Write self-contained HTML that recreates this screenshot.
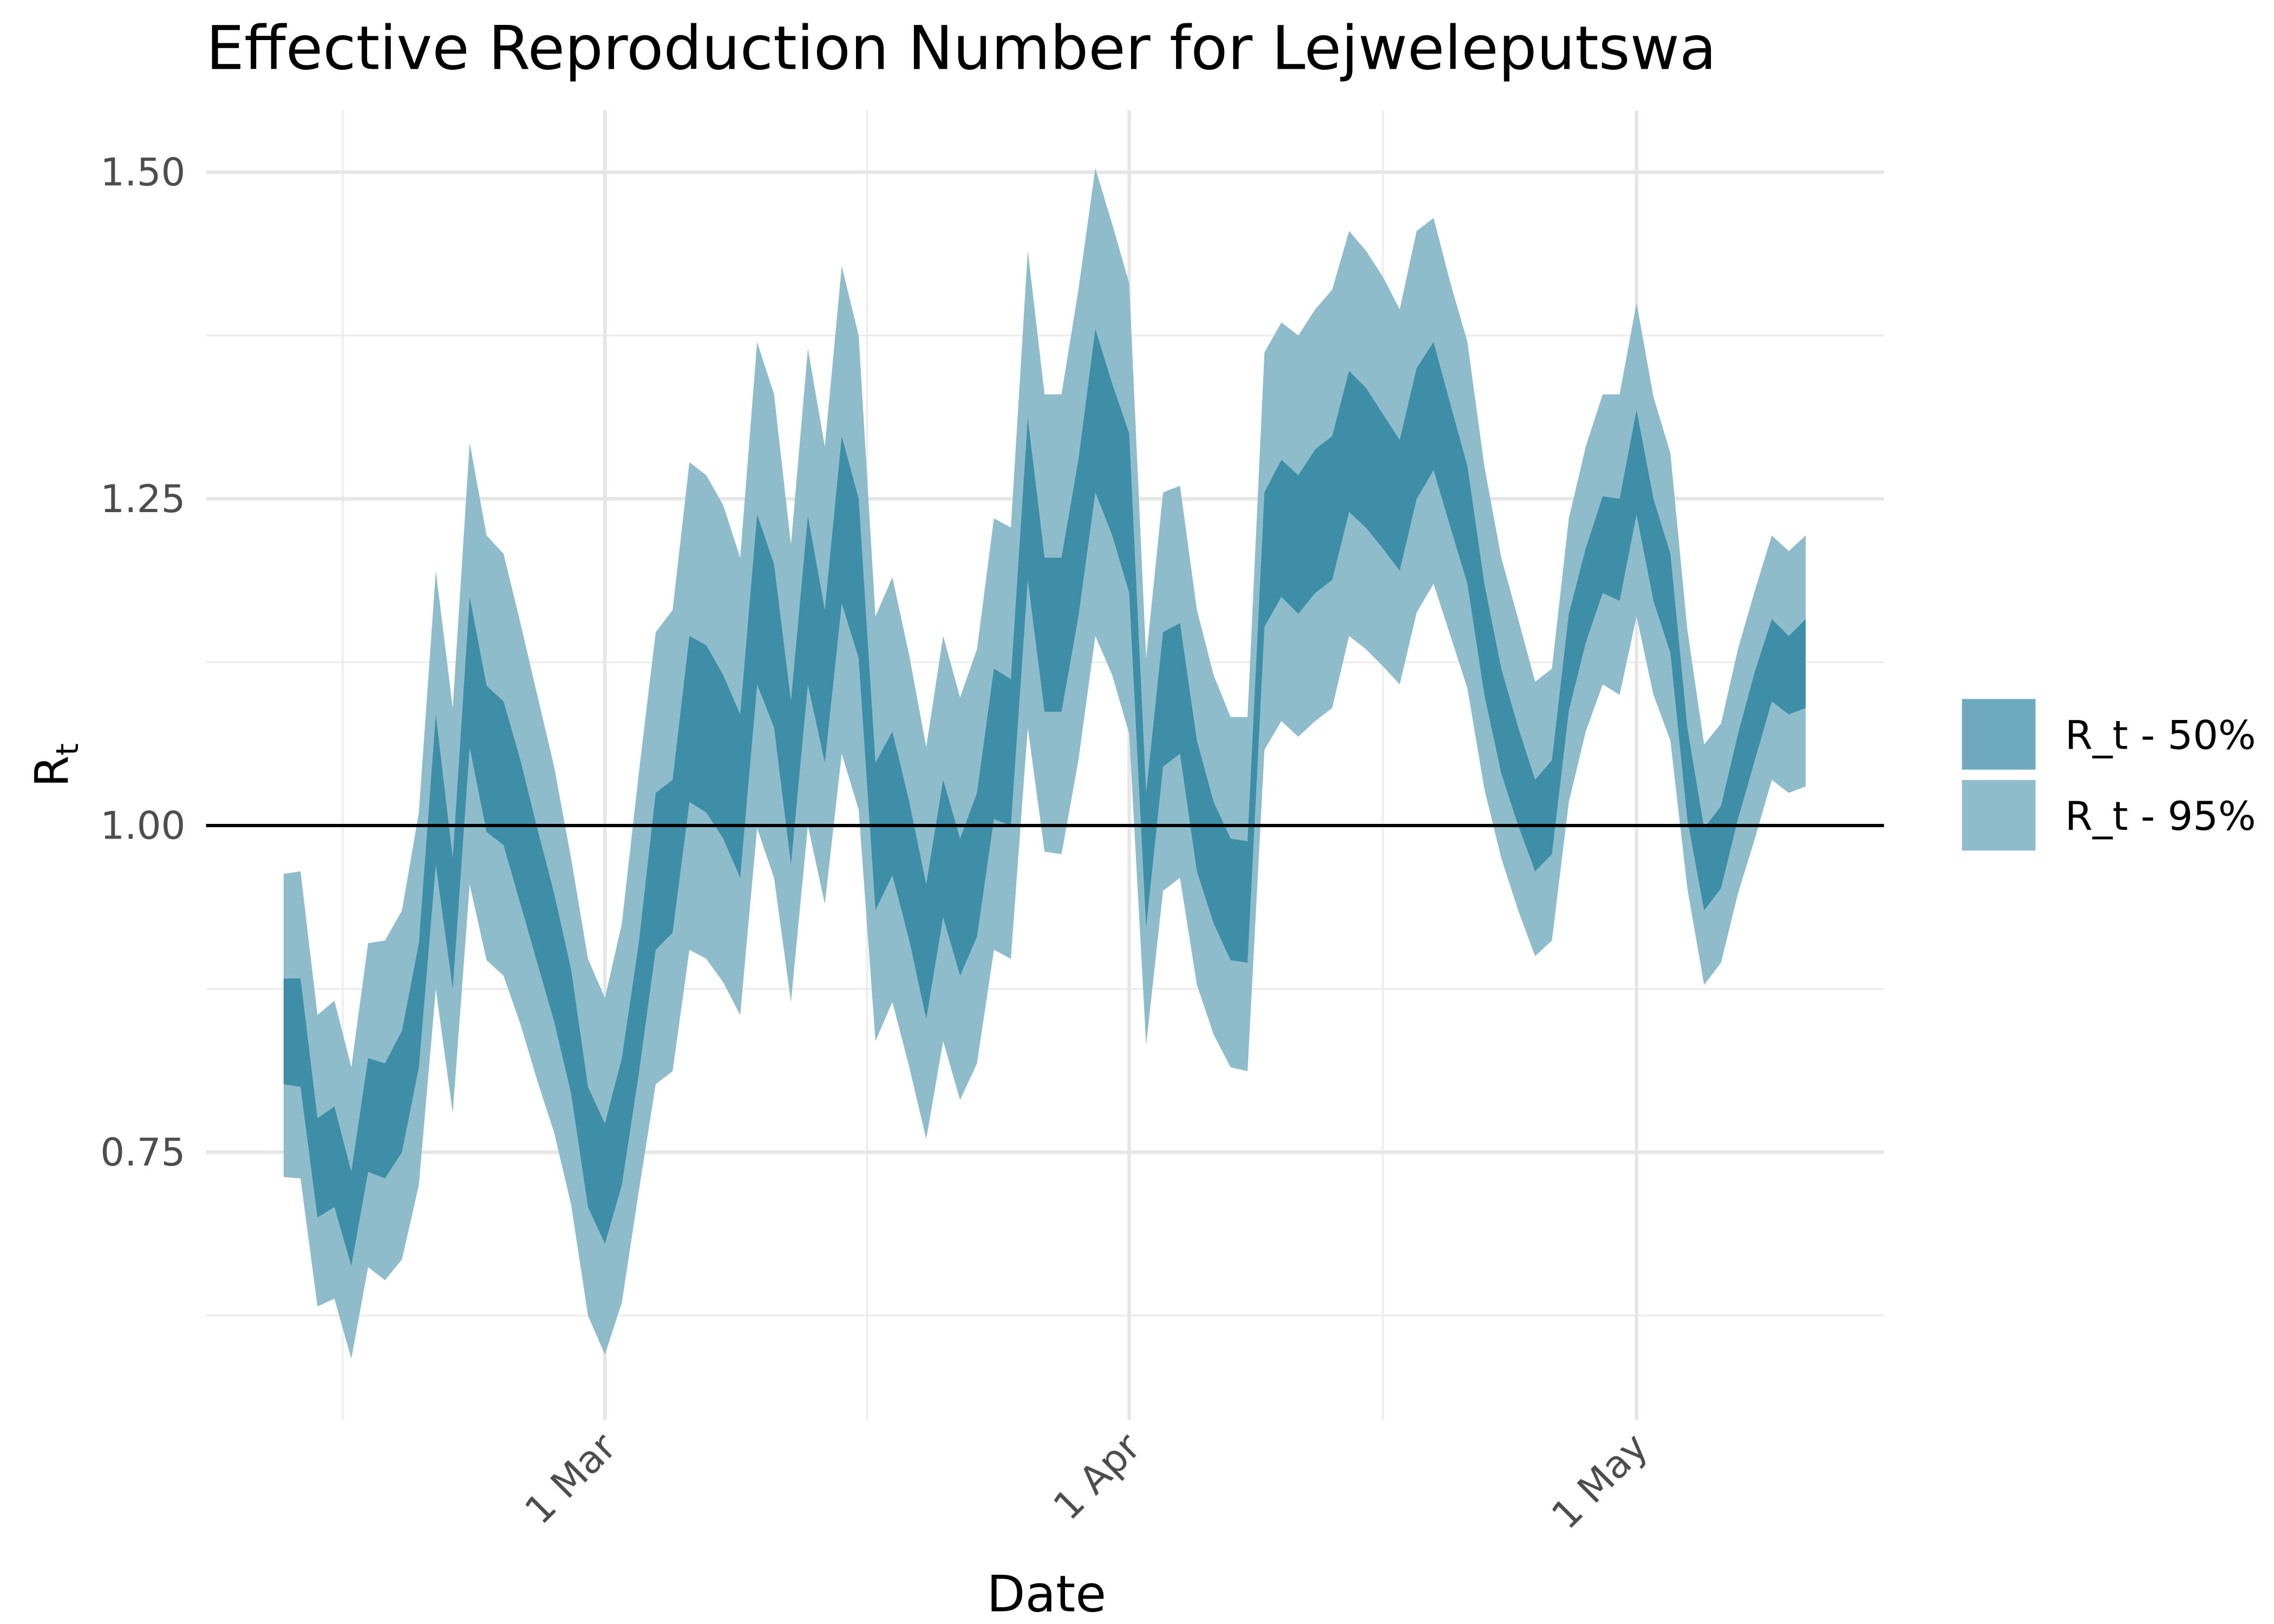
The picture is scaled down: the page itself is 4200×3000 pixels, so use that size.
<!DOCTYPE html>
<html><head><meta charset="utf-8"><style>
html,body{margin:0;padding:0;background:#fff;}
svg{display:block;font-family:"DejaVu Sans","Liberation Sans",sans-serif;}
</style></head><body>
<svg id="chart" width="4200" height="3000" viewBox="0 0 1545 1103.6" preserveAspectRatio="none" xmlns="http://www.w3.org/2000/svg">
<rect x="0" y="0" width="1545" height="1104" fill="#fff"/>
<g id="grid"></g>
<g id="bands"></g>
<line x1="140" x2="1280" y1="561" y2="561" stroke="#000" stroke-width="2.2"/>
<g id="axes"></g>
<text x="140" y="47" font-size="41" fill="#000">Effective Reproduction Number for Lejweleputswa</text>
<text x="711" y="1095" font-size="34" text-anchor="middle" fill="#000">Date</text>
<text transform="translate(46,520) rotate(-90)" font-size="31" text-anchor="middle" fill="#000">R<tspan font-size="21" dy="7">t</tspan></text>
<g>
<rect x="1333" y="475" width="50" height="48" fill="#6fa9be"/>
<rect x="1333" y="530" width="50" height="48" fill="#8fbccb"/>
<text x="1403" y="509" font-size="27" fill="#000">R_t - 50%</text>
<text x="1403" y="564" font-size="27" fill="#000">R_t - 95%</text>
</g>
</svg>
<script>
const startDay = -19; // days relative to 1 Mar (Feb 10)
const upper95 = [0.963,0.965,0.855,0.866,0.815,0.91,0.912,0.935,1.01,1.195,1.09,1.293,1.222,1.208,1.155,1.1,1.045,0.975,0.898,0.868,0.925,1.04,1.148,1.165,1.278,1.268,1.245,1.205,1.37,1.33,1.215,1.365,1.29,1.428,1.375,1.16,1.19,1.13,1.06,1.145,1.098,1.135,1.235,1.228,1.44,1.33,1.33,1.41,1.503,1.46,1.415,1.128,1.255,1.26,1.165,1.115,1.083,1.083,1.362,1.385,1.375,1.395,1.41,1.455,1.44,1.42,1.395,1.455,1.465,1.415,1.37,1.275,1.205,1.158,1.11,1.12,1.235,1.29,1.33,1.33,1.4,1.328,1.285,1.15,1.062,1.078,1.135,1.18,1.222,1.21,1.222];
const upper50 = [0.883,0.883,0.776,0.785,0.735,0.822,0.818,0.843,0.91,1.085,0.975,1.175,1.107,1.095,1.05,0.998,0.948,0.89,0.80,0.772,0.822,0.91,1.025,1.035,1.145,1.138,1.115,1.085,1.238,1.2,1.095,1.237,1.165,1.298,1.25,1.048,1.072,1.018,0.955,1.035,0.99,1.025,1.12,1.112,1.312,1.205,1.205,1.28,1.38,1.338,1.3,1.025,1.148,1.155,1.065,1.018,0.99,0.988,1.255,1.28,1.268,1.288,1.298,1.348,1.335,1.315,1.295,1.35,1.37,1.322,1.275,1.185,1.12,1.075,1.035,1.05,1.162,1.212,1.252,1.25,1.318,1.25,1.208,1.075,0.998,1.015,1.07,1.118,1.158,1.145,1.158];
const lower50 = [0.802,0.80,0.70,0.708,0.663,0.735,0.73,0.75,0.815,0.97,0.875,1.06,0.995,0.985,0.94,0.895,0.85,0.795,0.708,0.68,0.725,0.81,0.905,0.918,1.018,1.01,0.99,0.96,1.108,1.075,0.97,1.108,1.048,1.17,1.128,0.935,0.962,0.912,0.852,0.93,0.885,0.915,1.005,1.0,1.188,1.087,1.087,1.16,1.255,1.222,1.178,0.922,1.045,1.055,0.965,0.925,0.897,0.895,1.152,1.175,1.162,1.178,1.188,1.24,1.228,1.212,1.195,1.25,1.272,1.228,1.185,1.1,1.04,1.0,0.965,0.978,1.088,1.14,1.178,1.172,1.238,1.172,1.132,1.005,0.935,0.952,1.005,1.05,1.095,1.085,1.09];
const lower95 = [0.731,0.73,0.632,0.638,0.592,0.662,0.652,0.668,0.725,0.875,0.78,0.955,0.897,0.885,0.848,0.805,0.765,0.71,0.625,0.595,0.635,0.72,0.802,0.812,0.905,0.898,0.88,0.855,0.998,0.96,0.865,1.0,0.94,1.055,1.012,0.835,0.865,0.815,0.76,0.835,0.79,0.818,0.905,0.898,1.075,0.98,0.978,1.05,1.145,1.115,1.07,0.832,0.95,0.96,0.878,0.84,0.815,0.812,1.058,1.08,1.068,1.08,1.09,1.145,1.135,1.122,1.108,1.163,1.185,1.145,1.105,1.028,0.975,0.935,0.9,0.912,1.018,1.072,1.108,1.1,1.16,1.1,1.065,0.952,0.878,0.895,0.948,0.99,1.035,1.025,1.03];
const yMajorTicks = [0.75,1.00,1.25,1.50];
const yMinorTicks = [0.625,0.875,1.125,1.375];
const xTickLabels = ["1 Mar","1 Apr","1 May"];
const xTickDays = [0,31,61];
const xMinorDays = [-15.5,15.5,46];

const NS="http://www.w3.org/2000/svg";
const X = d => 411 + 11.49*d;
const Y = v => 561 - (v-1)*888;
function mk(tag, attrs, parent){const e=document.createElementNS(NS,tag);for(const k in attrs)e.setAttribute(k,attrs[k]);parent.appendChild(e);return e;}
const grid=document.getElementById('grid'), bands=document.getElementById('bands'), axes=document.getElementById('axes');

yMinorTicks.forEach(v=>{const l=mk('line',{x1:140,x2:1280,y1:Y(v),y2:Y(v),stroke:'#ebebeb','stroke-width':1.2},grid);

});
xMinorDays.forEach(d=>{const l=mk('line',{x1:X(d),x2:X(d),y1:75,y2:965,stroke:'#ebebeb','stroke-width':1.2},grid);

});
yMajorTicks.forEach(v=>{const l=mk('line',{x1:140,x2:1280,y1:Y(v),y2:Y(v),stroke:'#e6e6e6','stroke-width':2.4},grid);


const t=mk('text',{x:126,y:Y(v)+9,'font-size':26,'text-anchor':'end',fill:'#4d4d4d'},axes);
t.textContent=v.toFixed(2);

});
xTickDays.forEach((d,i)=>{const l=mk('line',{x1:X(d),x2:X(d),y1:75,y2:965,stroke:'#e6e6e6','stroke-width':2.4},grid);


const t=mk('text',{transform:`translate(${X(d)+9},${985}) rotate(-45)`,'font-size':26,'text-anchor':'end',fill:'#4d4d4d'},axes);
t.textContent=xTickLabels[i];

});

function band(up, lo, fill, name){
  let pts=[];
  up.forEach((v,i)=>pts.push(X(startDay+i).toFixed(1)+','+Y(v).toFixed(1)));
  for(let i=lo.length-1;i>=0;i--) pts.push(X(startDay+i).toFixed(1)+','+Y(lo[i]).toFixed(1));
  const p=mk('polygon',{points:pts.join(' '),fill:fill},bands);
  
  
}
band(upper95, lower95, '#8fbccb', 'band-95');
band(upper50, lower50, '#3f8ea8', 'band-50');
</script>
</body></html>
